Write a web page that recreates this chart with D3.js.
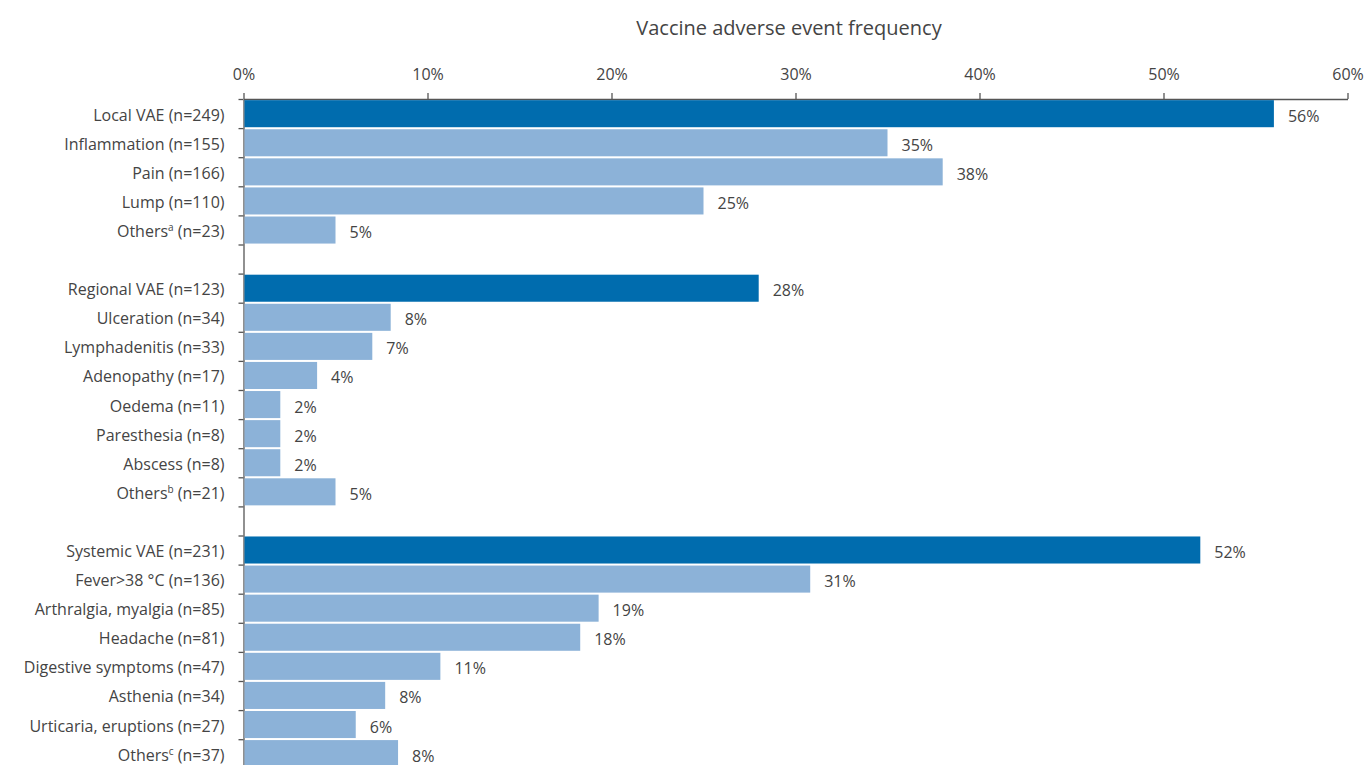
<!DOCTYPE html>
<html>
<head>
<meta charset="utf-8">
<script src="https://cdn.jsdelivr.net/npm/d3@7"></script>
<style>
  body { margin: 0; background: #fff; }
  text { font-family: "Open Sans", "DejaVu Sans", sans-serif; fill: #444; }
</style>
</head>
<body>
<div id="chart"></div>
<script>
// rows of the chart, top to bottom; null = empty spacer row between groups
const labels = [
    "Local VAE (n=249)", "Inflammation (n=155)", "Pain (n=166)", "Lump (n=110)", "Others|a| (n=23)",
    null,
    "Regional VAE (n=123)", "Ulceration (n=34)", "Lymphadenitis (n=33)", "Adenopathy (n=17)",
    "Oedema (n=11)", "Paresthesia (n=8)", "Abscess (n=8)", "Others|b| (n=21)",
    null,
    "Systemic VAE (n=231)", "Fever>38 °C (n=136)", "Arthralgia, myalgia (n=85)", "Headache (n=81)",
    "Digestive symptoms (n=47)", "Asthenia (n=34)", "Urticaria, eruptions (n=27)", "Others|c| (n=37)"
];
const values = [
    56, 35, 38, 25, 5,
    null,
    28, 8, 7, 4, 2, 2, 2, 5,
    null,
    52, 30.8, 19.3, 18.3, 10.7, 7.7, 6.1, 8.4
];
const isTotal = [
    1, 0, 0, 0, 0,
    0,
    1, 0, 0, 0, 0, 0, 0, 0,
    0,
    1, 0, 0, 0, 0, 0, 0, 0
];
const xTicks = [0, 10, 20, 30, 40, 50, 60];

const width = 1364,
      height = 765,
      rowH = 29.1,
      margin = ({ top: 99, left: 243.5, right: 16.5 });

const rows = labels.map((l, i) => ({ i: i, label: l, value: values[i], total: isTotal[i] }));

let svg = d3.select("#chart")
    .append("svg")
    .attr("width", width)
    .attr("height", height);

let x = d3.scaleLinear()
    .domain([0, 60])
    .range([margin.left, width - margin.right]);

let y = d3.scaleBand()
    .domain(d3.range(rows.length))
    .range([margin.top, margin.top + rows.length * rowH])
    .paddingInner(0.07)
    .paddingOuter(0.04);

// title
svg.append("text")
    .attr("x", 789)
    .attr("y", 35)
    .attr("text-anchor", "middle")
    .style("font-size", "20px")
    .text("Vaccine adverse event frequency");

// top axis
let xAxis = svg.append("g")
    .attr("transform", `translate(0,${margin.top})`)
    .call(d3.axisTop(x).tickValues(xTicks).tickSize(6).tickSizeOuter(0).tickPadding(13).tickFormat(d => d + "%"));
xAxis.selectAll("text").style("font-size", "16px").attr("fill", null);
xAxis.selectAll("line, path").attr("stroke", "#555").attr("stroke-width", 1.3);

// left axis: a tick at every row boundary
let yb = d3.scaleLinear()
    .domain([0, rows.length])
    .range([margin.top, margin.top + rows.length * rowH]);
let yAxis = svg.append("g")
    .attr("transform", `translate(${margin.left},0)`)
    .call(d3.axisLeft(yb).tickValues(d3.range(rows.length + 1)).tickSize(5).tickSizeOuter(0).tickFormat(""));
yAxis.selectAll("line, path").attr("stroke", "#555").attr("stroke-width", 1.3);

let bar = svg.selectAll(".bar")
    .data(rows.filter(d => d.value != null))
    .join("g")
    .attr("class", "bar");

bar.append("rect")
    .attr("fill", d => d.total ? "#006cae" : "#8cb2d8")
    .attr("x", x(0) + 1)
    .attr("y", d => y(d.i))
    .attr("width", d => x(d.value) - x(0) - 1)
    .attr("height", y.bandwidth());

bar.append("text")
    .attr("x", d => x(d.value) + 14)
    .attr("y", d => y(d.i) + y.bandwidth() / 2 + 8)
    .style("font-size", "16px")
    .text(d => Math.round(d.value) + "%");

// category labels, with superscript footnote letters
let lab = bar.append("text")
    .attr("x", margin.left - 19)
    .attr("y", d => y(d.i) + y.bandwidth() / 2 + 7)
    .attr("text-anchor", "end")
    .style("font-size", "16px");

lab.each(function(d) {
    let parts = d.label.split("|");
    let t = d3.select(this);
    t.append("tspan").text(parts[0]);
    if (parts.length > 1) {
        t.append("tspan").attr("dy", -6).style("font-size", "10px").text(parts[1]);
        t.append("tspan").attr("dy", 6).text(parts[2]);
    }
});
</script>
</body>
</html>
